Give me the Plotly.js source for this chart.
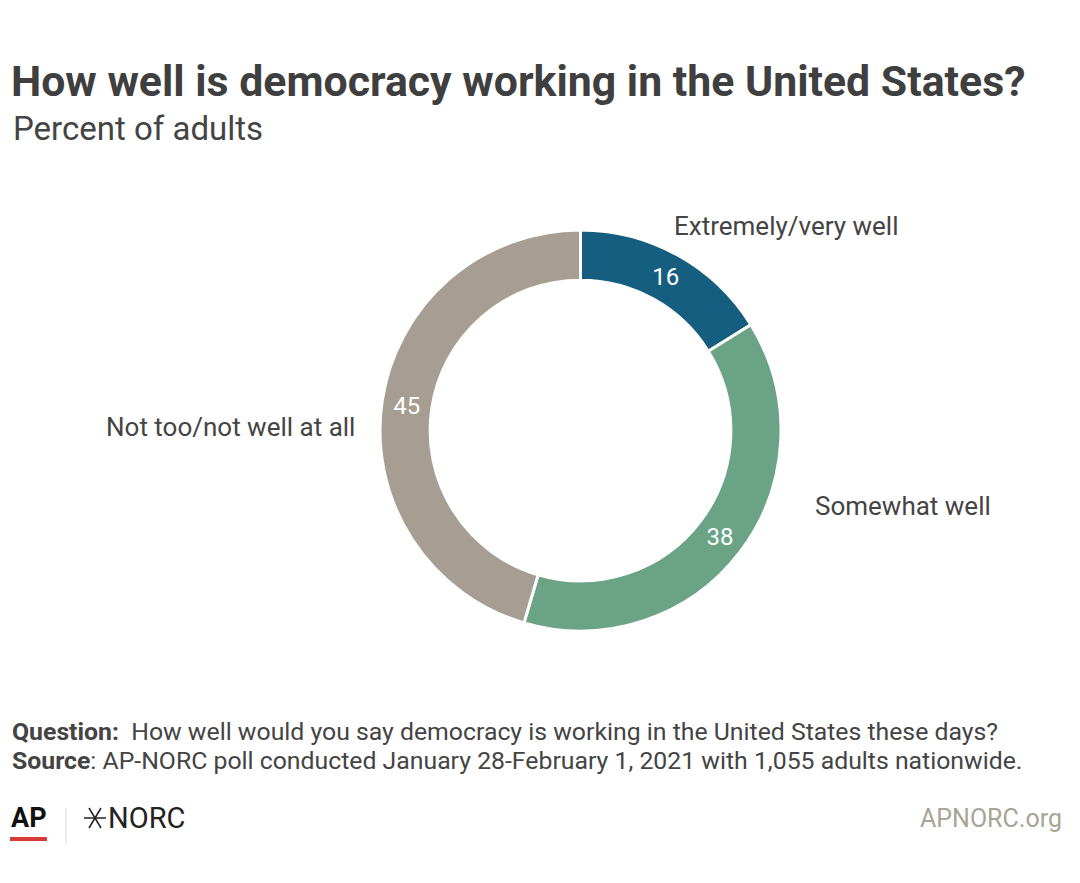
<!DOCTYPE html>
<html>
<head>
<meta charset="utf-8">
<script src="https://cdn.plot.ly/plotly-3.0.1.min.js"></script>
<style>
html,body{margin:0;padding:0;background:#fff;}
#chart{width:1080px;height:883px;}
</style>
</head>
<body>
<div id="chart"></div>
<script>
// Data
const categories = ["Extremely/very well", "Somewhat well", "Not too/not well at all"];
const values = [16, 38, 45];
const colors = ["#165e7f", "#6aa386", "#a69e92"];

const titleText = "How well is democracy working in the United States?";
const subtitleText = "Percent of adults";
const questionText = "<b>Question:</b>\u00a0 How well would you say democracy is working in the United States these days?";
const sourceText = "<b>Source</b>: AP-NORC poll conducted January 28-February 1, 2021 with 1,055 adults nationwide.";

const W = 1080, H = 883;
const px = x => x / W;
const py = y => 1 - y / H;

const trace = {
  type: "pie",
  labels: categories,
  values: values,
  hole: 0.75,
  sort: false,
  direction: "clockwise",
  rotation: 0,
  marker: {colors: colors, line: {color: "#ffffff", width: 3}},
  textinfo: "value",
  textposition: "inside",
  insidetextorientation: "horizontal",
  textfont: {family: "Roboto, sans-serif", size: 24, color: "#ffffff"},
  hoverinfo: "label+value",
  domain: {x: [px(380), px(781)], y: [py(631), py(230)]},
  showlegend: false
};

const labelFont = {family: "Roboto, sans-serif", size: 26, color: "#444444"};
const footFont = {family: "Roboto, sans-serif", size: 24.8, color: "#444444"};

const layout = {
  width: W, height: H,
  margin: {l: 0, r: 0, t: 0, b: 0},
  paper_bgcolor: "#ffffff",
  showlegend: false,
  title: {
    text: "<b>" + titleText + "</b>",
    x: px(11), xanchor: "left", xref: "paper",
    y: py(81), yanchor: "middle", yref: "paper",
    font: {family: "Roboto, sans-serif", size: 42.8, color: "#3f3f3f"}
  },
  annotations: [
    {text: subtitleText, x: px(11), y: py(128), xref: "paper", yref: "paper", xanchor: "left", yanchor: "middle", showarrow: false,
     font: {family: "Roboto, sans-serif", size: 33, color: "#444444"}},
    {text: categories[0], x: px(672), y: py(226), xref: "paper", yref: "paper", xanchor: "left", yanchor: "middle", showarrow: false, font: labelFont},
    {text: categories[1], x: px(813), y: py(506), xref: "paper", yref: "paper", xanchor: "left", yanchor: "middle", showarrow: false, font: labelFont},
    {text: categories[2], x: px(357), y: py(427), xref: "paper", yref: "paper", xanchor: "right", yanchor: "middle", showarrow: false, font: labelFont},
    {text: questionText, x: px(10), y: py(731), xref: "paper", yref: "paper", xanchor: "left", yanchor: "middle", showarrow: false, font: footFont},
    {text: sourceText, x: px(10), y: py(760), xref: "paper", yref: "paper", xanchor: "left", yanchor: "middle", showarrow: false, font: footFont},
    {text: "<b>AP</b>", x: px(9), y: py(818), xref: "paper", yref: "paper", xanchor: "left", yanchor: "middle", showarrow: false,
     font: {family: "Roboto, sans-serif", size: 27, color: "#111111"}},
    {text: "NORC", x: px(106), y: py(818), xref: "paper", yref: "paper", xanchor: "left", yanchor: "middle", showarrow: false,
     font: {family: "Roboto, sans-serif", size: 29, color: "#222222"}},
    {text: "APNORC.org", x: px(1064), y: py(818), xref: "paper", yref: "paper", xanchor: "right", yanchor: "middle", showarrow: false,
     font: {family: "Roboto, sans-serif", size: 25, color: "#a8a496"}}
  ],
  shapes: [
    // AP red underline
    {type: "line", xref: "paper", yref: "paper", x0: px(10), x1: px(47), y0: py(839), y1: py(839), line: {color: "#d63b35", width: 4}},
    // divider
    {type: "line", xref: "paper", yref: "paper", x0: px(66), x1: px(66), y0: py(808), y1: py(845), line: {color: "#dddddd", width: 1}},
    // NORC star
    {type: "line", xref: "paper", yref: "paper", x0: px(84), x1: px(106), y0: py(818), y1: py(818), line: {color: "#222222", width: 1.5}},
    {type: "line", xref: "paper", yref: "paper", x0: px(89), x1: px(101), y0: py(808), y1: py(828), line: {color: "#222222", width: 1.5}},
    {type: "line", xref: "paper", yref: "paper", x0: px(89), x1: px(101), y0: py(828), y1: py(808), line: {color: "#222222", width: 1.5}}
  ]
};

Plotly.newPlot("chart", [trace], layout, {displayModeBar: false});
</script>
</body>
</html>
